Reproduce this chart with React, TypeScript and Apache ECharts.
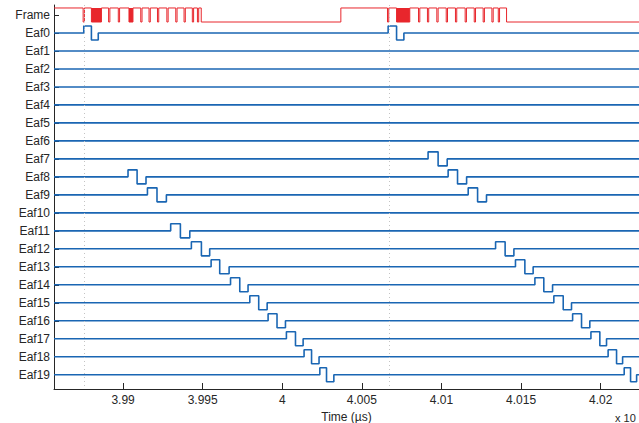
import React, { useEffect, useRef } from 'react';
import * as echarts from 'echarts';

// Rows (top to bottom)
const channels = [
  'Frame', 'Eaf0', 'Eaf1', 'Eaf2', 'Eaf3', 'Eaf4', 'Eaf5', 'Eaf6', 'Eaf7', 'Eaf8', 'Eaf9',
  'Eaf10', 'Eaf11', 'Eaf12', 'Eaf13', 'Eaf14', 'Eaf15', 'Eaf16', 'Eaf17', 'Eaf18', 'Eaf19',
];

// Time axis (µs)
const xMin = 3985.66;
const xMax = 4022.41;
const xTicks = [3990, 3995, 4000, 4005, 4010, 4015, 4020];
const frameMarkers = [3987.55, 4006.71];

// Frame signal: level changes [time, level(1 = high, 0 = low)]
const frameLevelChanges: [number, number][] = [
  [3994.91, 0],
  [4003.68, 1],
  [4014.09, 0],
];
// Short low glitches in the frame signal (centre times)
const frameGlitches = [
  3987.53, 3989.13, 3989.74, 3991.15, 3991.67, 3992.2, 3992.79, 3993.35, 3993.87, 3994.39, 3994.71,
  4006.65, 4008.6, 4009.16, 4009.75, 4010.34, 4010.92, 4011.53, 4012.1, 4012.66, 4013.21, 4013.61,
];
// Dense bursts in the frame signal [start, end]
const frameBursts: [number, number][] = [
  [3988.01, 3988.64],
  [3990.37, 3990.62],
  [4007.18, 4008.01],
];

// Eaf bipolar pulses: [channel, rise, middle, end]
const eafPulses: [string, number, number, number][] = [
  ['Eaf0', 3987.53, 3988.01, 3988.44],
  ['Eaf8', 3990.31, 3990.88, 3991.44],
  ['Eaf9', 3991.53, 3992.13, 3992.72],
  ['Eaf11', 3992.99, 3993.6, 3994.19],
  ['Eaf12', 3994.29, 3994.92, 3995.44],
  ['Eaf13', 3995.53, 3996.07, 3996.66],
  ['Eaf14', 3996.75, 3997.33, 3997.85],
  ['Eaf15', 3997.96, 3998.52, 3999.05],
  ['Eaf16', 3999.11, 3999.67, 4000.2],
  ['Eaf17', 4000.26, 4000.83, 4001.31],
  ['Eaf18', 4001.37, 4001.84, 4002.31],
  ['Eaf19', 4002.36, 4002.78, 4003.24],
  ['Eaf0', 4006.65, 4007.18, 4007.64],
  ['Eaf7', 4009.16, 4009.79, 4010.36],
  ['Eaf8', 4010.42, 4011.01, 4011.58],
  ['Eaf9', 4011.68, 4012.27, 4012.83],
  ['Eaf12', 4013.4, 4014.0, 4014.55],
  ['Eaf13', 4014.65, 4015.24, 4015.76],
  ['Eaf14', 4015.87, 4016.43, 4016.98],
  ['Eaf15', 4017.06, 4017.65, 4018.17],
  ['Eaf16', 4018.24, 4018.8, 4019.32],
  ['Eaf17', 4019.39, 4019.95, 4020.37],
  ['Eaf18', 4020.47, 4021.0, 4021.38],
  ['Eaf19', 4021.48, 4021.88, 4022.26],
];

const AMP = 0.39;
const GLITCH = 0.04;
const RED = '#e8262c';
const BLUE = '#1a66b3';
const TEXT = '#262626';
const FONT = 'Liberation Sans, Arial, sans-serif';

function buildFrame(): [number, number][] {
  const hi = -AMP;
  const lo = AMP;
  const trans: [number, number][] = [];
  frameLevelChanges.forEach(([t, l]) => trans.push([t, l ? hi : lo]));
  frameGlitches.forEach((t) => {
    trans.push([t - GLITCH, lo]);
    trans.push([t + GLITCH, hi]);
  });
  frameBursts.forEach(([s, e]) => {
    trans.push([s, lo]);
    trans.push([e, hi]);
  });
  trans.sort((a, b) => a[0] - b[0]);
  const pts: [number, number][] = [[xMin, hi]];
  let cur = hi;
  trans.forEach(([t, l]) => {
    pts.push([t, cur]);
    pts.push([t, l]);
    cur = l;
  });
  pts.push([xMax, cur]);
  return pts;
}

function buildEaf(name: string, row: number): [number, number][] {
  const pulses = eafPulses.filter((p) => p[0] === name).sort((a, b) => a[1] - b[1]);
  const pts: [number, number][] = [[xMin, row]];
  pulses.forEach(([, r, m, e]) => {
    pts.push([r, row]);
    pts.push([r, row - AMP]);
    pts.push([m, row - AMP]);
    pts.push([m, row + AMP]);
    pts.push([e, row + AMP]);
    pts.push([e, row]);
  });
  pts.push([xMax, row]);
  return pts;
}

export default function App() {
  const ref = useRef<HTMLDivElement>(null);
  useEffect(() => {
    if (!ref.current) return;
    const chart = echarts.init(ref.current, undefined, { renderer: 'svg' });
    const rowValues = channels.map((_, i) => i);
    const series: any[] = [
      {
        type: 'line',
        name: 'markers',
        data: [],
        z: 1,
        silent: true,
        markLine: {
          symbol: 'none',
          silent: true,
          label: { show: false },
          lineStyle: { type: [1, 3], color: '#c4c4c4', width: 1 },
          data: frameMarkers.map((x) => ({ xAxis: x })),
        },
      },
      {
        type: 'line',
        name: 'Frame',
        data: buildFrame(),
        showSymbol: false,
        symbol: 'none',
        z: 3,
        lineStyle: { color: RED, width: 1 },
        itemStyle: { color: RED },
        markArea: {
          silent: true,
          itemStyle: { color: RED, opacity: 1 },
          data: frameBursts.map(([s, e]) => [{ coord: [s, -AMP] }, { coord: [e, AMP] }]),
        },
      },
    ];
    channels.slice(1).forEach((name, i) => {
      series.push({
        type: 'line',
        name,
        data: buildEaf(name, i + 1),
        showSymbol: false,
        symbol: 'none',
        z: 2,
        lineStyle: { color: BLUE, width: 1.6 },
        itemStyle: { color: BLUE },
      });
    });
    chart.setOption({
      animation: false,
      backgroundColor: '#ffffff',
      grid: { left: 54, right: 0, top: 5, bottom: 34, containLabel: false, outerBoundsMode: 'none' },
      xAxis: {
        type: 'value',
        min: xMin,
        max: xMax,
        name: 'Time (µs)',
        nameLocation: 'middle',
        nameGap: 18,
        nameTextStyle: { color: TEXT, fontSize: 12, fontFamily: FONT },
        axisLine: { show: true, onZero: false, lineStyle: { color: TEXT, width: 1 } },
        axisTick: { show: true, inside: true, length: 6, customValues: xTicks, lineStyle: { color: TEXT } },
        axisLabel: {
          customValues: xTicks,
          margin: 5,
          color: TEXT,
          fontSize: 12,
          fontFamily: FONT,
          formatter: (v: number) => String(+(v / 1000).toFixed(3)),
        },
        splitLine: { show: false },
      },
      yAxis: {
        type: 'value',
        inverse: true,
        min: -0.5556,
        max: 20.794,
        axisLine: { show: true, onZero: false, lineStyle: { color: TEXT, width: 1 } },
        axisTick: { show: true, inside: true, length: 5, customValues: rowValues, lineStyle: { color: TEXT } },
        axisLabel: {
          customValues: rowValues,
          margin: 4,
          color: TEXT,
          fontSize: 12,
          fontFamily: FONT,
          formatter: (v: number) => channels[Math.round(v)] ?? '',
        },
        splitLine: { show: false },
      },
      graphic: [
        {
          type: 'text',
          left: 615,
          top: 412,
          style: { text: 'x 10', fill: TEXT, fontSize: 11, fontFamily: FONT },
        },
      ],
      series,
    });
    return () => chart.dispose();
  }, []);
  return (
    <div
      ref={ref}
      style={{ position: 'fixed', left: 0, top: 0, width: 639, height: 423, background: '#fff' }}
    />
  );
}
